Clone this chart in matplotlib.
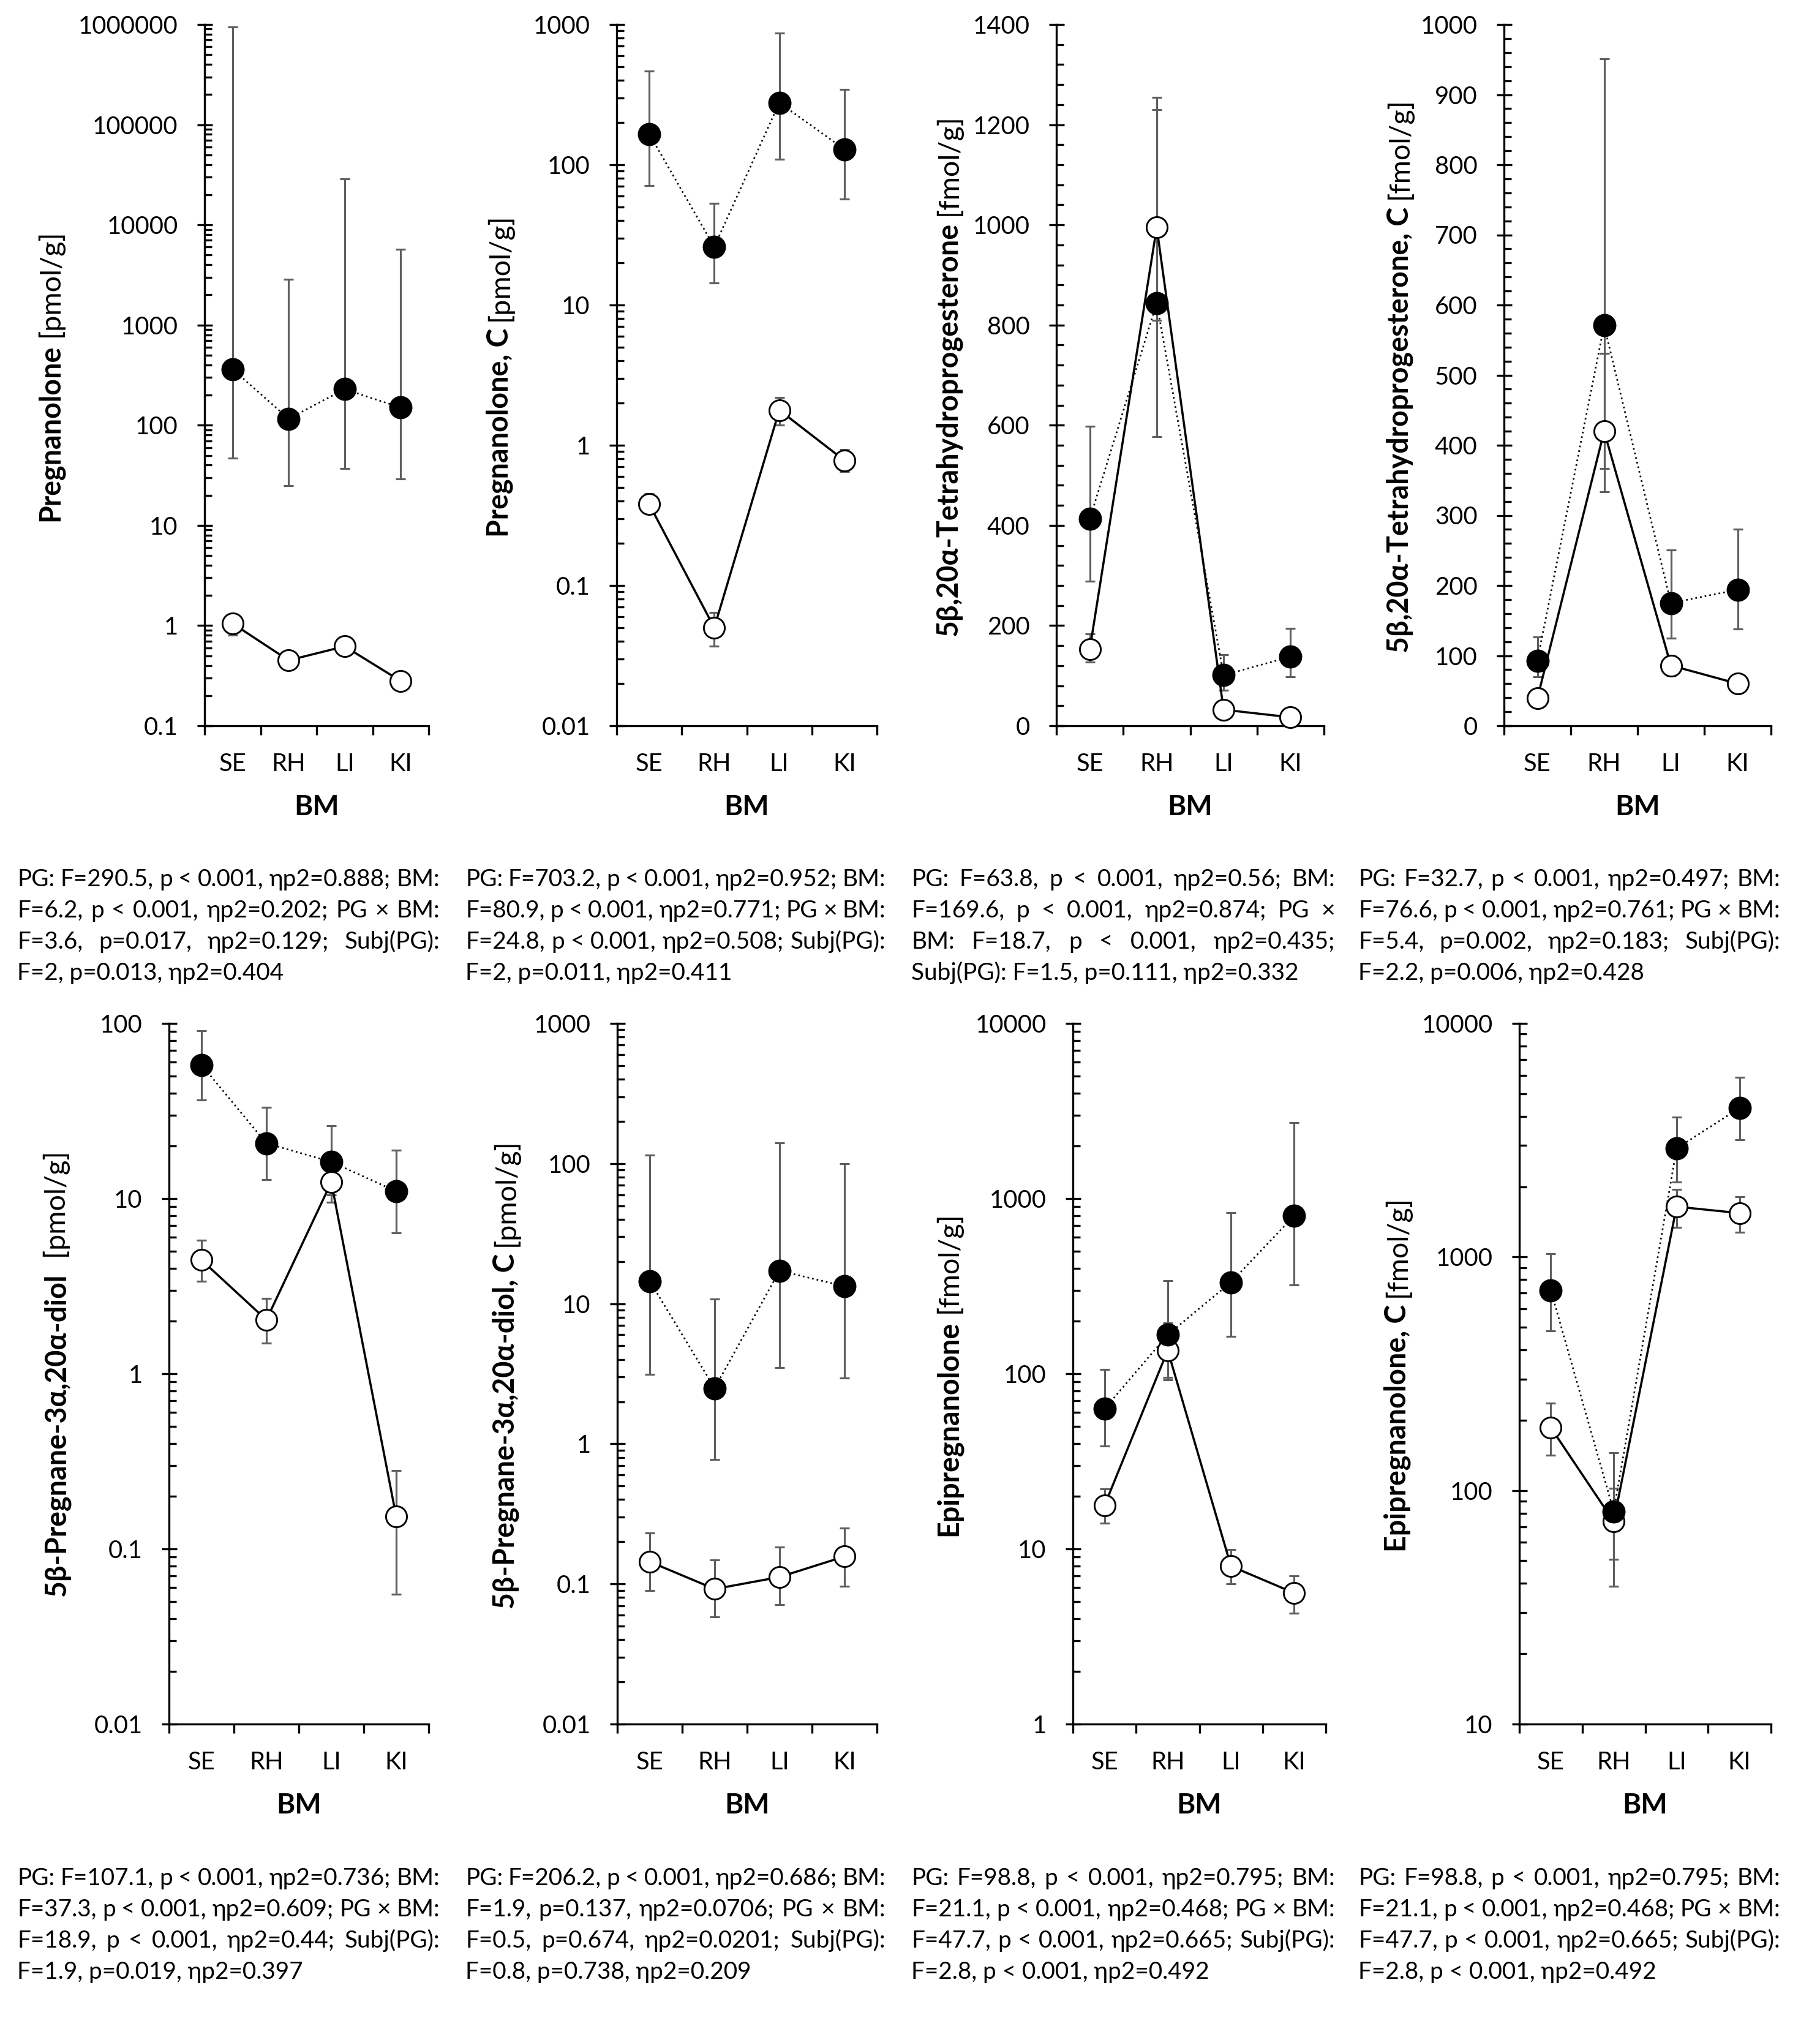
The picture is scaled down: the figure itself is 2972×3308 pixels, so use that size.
import numpy as np
import matplotlib
matplotlib.use("Agg")
import matplotlib.pyplot as plt
from matplotlib.ticker import (LogLocator, MultipleLocator, FixedLocator,
                               FixedFormatter, FuncFormatter, NullFormatter)
from matplotlib.transforms import IdentityTransform

W, H, DPI = 2972, 3308, 300
FAM = ["Lato", "DejaVu Sans"]
plt.rcParams["font.family"] = FAM

categories = ["SE", "RH", "LI", "KI"]

# Pregnanolone
preg_f = [363, 116, 229, 150]
preg_f_lo = [47, 25, 37, 29]
preg_f_hi = [940000, 2860, 29000, 5700]
preg_o = [1.05, 0.45, 0.62, 0.28]
preg_o_lo = [0.8, 0.38, 0.52, 0.24]
preg_o_hi = [1.3, 0.52, 0.74, 0.33]

# Pregnanolone, C
pregc_f = [166, 26, 277, 129]
pregc_f_lo = [71, 14.3, 109, 57]
pregc_f_hi = [466, 53, 866, 345]
pregc_o = [0.38, 0.050, 1.78, 0.78]
pregc_o_lo = [0.33, 0.037, 1.4, 0.65]
pregc_o_hi = [0.45, 0.064, 2.2, 0.93]

# 5b,20a-Tetrahydroprogesterone
thp_f = [413, 844, 101, 138]
thp_f_lo = [288, 577, 71, 98]
thp_f_hi = [598, 1230, 142, 194]
thp_o = [153, 995, 32, 17]
thp_o_lo = [127, 810, 27, 13]
thp_o_hi = [184, 1255, 38, 21]

# 5b,20a-Tetrahydroprogesterone, C
thpc_f = [93, 571, 175, 194]
thpc_f_lo = [70, 334, 125, 138]
thpc_f_hi = [127, 951, 251, 280]
thpc_o = [39, 420, 86, 60]
thpc_o_lo = [33, 367, 72, 52]
thpc_o_hi = [45, 531, 100, 68]

# 5b-Pregnane-3a,20a-diol
diol_f = [58, 20.7, 16.2, 11]
diol_f_lo = [36.6, 12.8, 9.5, 6.35]
diol_f_hi = [90.6, 33.3, 26, 18.9]
diol_o = [4.46, 2.03, 12.4, 0.153]
diol_o_lo = [3.36, 1.5, 10.5, 0.055]
diol_o_hi = [5.8, 2.7, 14, 0.28]

# 5b-Pregnane-3a,20a-diol, C
diolc_f = [14.5, 2.49, 17.2, 13.3]
diolc_f_lo = [3.13, 0.77, 3.5, 2.94]
diolc_f_hi = [115, 10.8, 141, 100]
diolc_o = [0.144, 0.092, 0.112, 0.157]
diolc_o_lo = [0.09, 0.058, 0.071, 0.096]
diolc_o_hi = [0.232, 0.148, 0.183, 0.251]

# Epipregnanolone
epi_f = [63, 167, 333, 798]
epi_f_lo = [38.7, 95, 164, 322]
epi_f_hi = [106, 340, 832, 2716]
epi_o = [17.7, 136, 7.97, 5.6]
epi_o_lo = [14, 92, 6.3, 4.3]
epi_o_hi = [22, 195, 9.9, 7.0]

# Epipregnanolone, C
epic_f = [721, 81.5, 2915, 4345]
epic_f_lo = [484, 38.8, 2097, 3175]
epic_f_hi = [1035, 145, 3960, 5870]
epic_o = [186, 73.7, 1642, 1541]
epic_o_lo = [142, 50.6, 1342, 1273]
epic_o_hi = [237, 102, 1950, 1806]

ylabel_bold = ["Pregnanolone", "Pregnanolone, C",
               "5β,20α-Tetrahydroprogesterone", "5β,20α-Tetrahydroprogesterone, C",
               "5β-Pregnane-3α,20α-diol", "5β-Pregnane-3α,20α-diol, C",
               "Epipregnanolone", "Epipregnanolone, C"]
ylabel_unit = ["[pmol/g]", "[pmol/g]", "[fmol/g]", "[fmol/g]",
               " [pmol/g]", "[pmol/g]", "[fmol/g]", "[fmol/g]"]

captions = [
    ["PG: F=290.5, p < 0.001, ηp2=0.888; BM:",
     "F=6.2, p < 0.001, ηp2=0.202; PG × BM:",
     "F=3.6, p=0.017, ηp2=0.129; Subj(PG):",
     "F=2, p=0.013, ηp2=0.404"],
    ["PG: F=703.2, p < 0.001, ηp2=0.952; BM:",
     "F=80.9, p < 0.001, ηp2=0.771; PG × BM:",
     "F=24.8, p < 0.001, ηp2=0.508; Subj(PG):",
     "F=2, p=0.011, ηp2=0.411"],
    ["PG: F=63.8, p < 0.001, ηp2=0.56; BM:",
     "F=169.6, p < 0.001, ηp2=0.874; PG ×",
     "BM: F=18.7, p < 0.001, ηp2=0.435;",
     "Subj(PG): F=1.5, p=0.111, ηp2=0.332"],
    ["PG: F=32.7, p < 0.001, ηp2=0.497; BM:",
     "F=76.6, p < 0.001, ηp2=0.761; PG × BM:",
     "F=5.4, p=0.002, ηp2=0.183; Subj(PG):",
     "F=2.2, p=0.006, ηp2=0.428"],
    ["PG: F=107.1, p < 0.001, ηp2=0.736; BM:",
     "F=37.3, p < 0.001, ηp2=0.609; PG × BM:",
     "F=18.9, p < 0.001, ηp2=0.44; Subj(PG):",
     "F=1.9, p=0.019, ηp2=0.397"],
    ["PG: F=206.2, p < 0.001, ηp2=0.686; BM:",
     "F=1.9, p=0.137, ηp2=0.0706; PG × BM:",
     "F=0.5, p=0.674, ηp2=0.0201; Subj(PG):",
     "F=0.8, p=0.738, ηp2=0.209"],
    ["PG: F=98.8, p < 0.001, ηp2=0.795; BM:",
     "F=21.1, p < 0.001, ηp2=0.468; PG × BM:",
     "F=47.7, p < 0.001, ηp2=0.665; Subj(PG):",
     "F=2.8, p < 0.001, ηp2=0.492"],
    ["PG: F=98.8, p < 0.001, ηp2=0.795; BM:",
     "F=21.1, p < 0.001, ηp2=0.468; PG × BM:",
     "F=47.7, p < 0.001, ηp2=0.665; Subj(PG):",
     "F=2.8, p < 0.001, ηp2=0.492"],
]

# layout in pixels of the full image
rows = [(40, 1185), (1671, 2815)]
ax_x = [(334, 700), (1007, 1432), (1725, 2162), (2456, 2892),
        (276, 700), (1008, 1432), (1752, 2165), (2481, 2892)]
ylab_x = [84, 818, 1551, 2287, 95, 828, 1551, 2284]
cap_cols = [(28, 718), (760, 1446), (1488, 2180), (2218, 2907)]
cap_base = [1447, 3078]
CAP_GAP = 51

TICK_FS = 9.6
LAB_FS = 11.2
CAP_FS = 9.3
ERR_C = "#5f5f5f"
PX = DPI / 72.0

panels = [
    ("log", (0.1, 1e6), preg_f, preg_f_lo, preg_f_hi, preg_o, preg_o_lo, preg_o_hi),
    ("log", (0.01, 1000), pregc_f, pregc_f_lo, pregc_f_hi, pregc_o, pregc_o_lo, pregc_o_hi),
    ("lin", (0, 1400, 200, 40), thp_f, thp_f_lo, thp_f_hi, thp_o, thp_o_lo, thp_o_hi),
    ("lin", (0, 1000, 100, 20), thpc_f, thpc_f_lo, thpc_f_hi, thpc_o, thpc_o_lo, thpc_o_hi),
    ("log", (0.01, 100), diol_f, diol_f_lo, diol_f_hi, diol_o, diol_o_lo, diol_o_hi),
    ("log", (0.01, 1000), diolc_f, diolc_f_lo, diolc_f_hi, diolc_o, diolc_o_lo, diolc_o_hi),
    ("log", (1, 10000), epi_f, epi_f_lo, epi_f_hi, epi_o, epi_o_lo, epi_o_hi),
    ("log", (10, 10000), epic_f, epic_f_lo, epic_f_hi, epic_o, epic_o_lo, epic_o_hi),
]


def fmt_num(v, pos=None):
    if v >= 1 or v == 0:
        return f"{v:.0f}"
    return f"{v:.6f}".rstrip("0")


fig = plt.figure(figsize=(W / DPI, H / DPI), dpi=DPI)
fig.patch.set_facecolor("white")
r = fig.canvas.get_renderer()


def ylabel2(xc, yc, bold, unit):
    kw = dict(rotation=90, rotation_mode="anchor", ha="left", va="baseline",
              fontsize=LAB_FS, transform=IdentityTransform())
    t1 = fig.text(0, 0, bold, fontweight="bold", **kw)
    t2 = fig.text(0, 0, unit, **kw)
    l1 = t1.get_window_extent(r).height
    l2 = t2.get_window_extent(r).height
    sp = 0.26 * LAB_FS * PX
    y0 = (H - yc) - (l1 + sp + l2) / 2
    xb = xc + 12
    t1.set_position((xb, y0))
    t2.set_position((xb, y0 + l1 + sp))


def caption(lines, x0, x1, yb0):
    # justified paragraph, last line left aligned
    min_gap = 0.2 * CAP_FS * PX
    for i, line in enumerate(lines):
        yb = H - (yb0 + i * CAP_GAP)
        kw = dict(ha="left", va="baseline", fontsize=CAP_FS, transform=IdentityTransform())
        if i == len(lines) - 1:
            fig.text(x0, yb, line, **kw)
            continue
        words = line.split(" ")
        texts = [fig.text(0, yb, w, **kw) for w in words]
        widths = [t.get_window_extent(r).width for t in texts]
        gap = max((x1 - x0 - sum(widths)) / (len(words) - 1), min_gap)
        x = x0
        for t, w in zip(texts, widths):
            t.set_position((x, yb))
            x += w + gap


xs = np.arange(1, 5)
for i, (kind, lim, yf, yf_lo, yf_hi, yo, yo_lo, yo_hi) in enumerate(panels):
    top, bot = rows[i // 4]
    x0, x1 = ax_x[i]
    ax = fig.add_axes([x0 / W, 1 - bot / H, (x1 - x0) / W, (bot - top) / H])
    ax.set_facecolor("none")
    for s in ["top", "right"]:
        ax.spines[s].set_visible(False)
    for s in ["left", "bottom"]:
        ax.spines[s].set_linewidth(0.8)

    if kind == "log":
        ax.set_yscale("log")
        ax.set_ylim(lim[0], lim[1])
        ax.yaxis.set_major_locator(LogLocator(base=10, numticks=20))
        ax.yaxis.set_minor_locator(LogLocator(base=10, subs=np.arange(2, 10), numticks=20))
        ax.yaxis.set_minor_formatter(NullFormatter())
    else:
        ax.set_ylim(lim[0], lim[1])
        ax.yaxis.set_major_locator(MultipleLocator(lim[2]))
        ax.yaxis.set_minor_locator(MultipleLocator(lim[3]))
    ax.yaxis.set_major_formatter(FuncFormatter(fmt_num))

    ax.set_xlim(0.5, 4.5)
    ax.xaxis.set_major_locator(FixedLocator([0.5, 1.5, 2.5, 3.5, 4.5]))
    ax.xaxis.set_major_formatter(NullFormatter())
    ax.xaxis.set_minor_locator(FixedLocator(xs))
    ax.xaxis.set_minor_formatter(FixedFormatter(categories))
    ax.tick_params(axis="x", which="major", direction="out", length=3.6, width=0.8)
    ax.tick_params(axis="x", which="minor", length=0, pad=10.5, labelsize=TICK_FS)
    ax.tick_params(axis="y", which="major", direction="inout", length=6, width=0.8,
                   pad=7.4, labelsize=TICK_FS)
    ax.tick_params(axis="y", which="minor", direction="in", length=2.9, width=0.8)

    yf = np.array(yf); yo = np.array(yo)
    ax.errorbar(xs, yf, yerr=[yf - np.array(yf_lo), np.array(yf_hi) - yf], fmt="none",
                ecolor=ERR_C, elinewidth=0.75, capsize=1.9, capthick=0.75, zorder=2)
    ax.errorbar(xs, yo, yerr=[yo - np.array(yo_lo), np.array(yo_hi) - yo], fmt="none",
                ecolor=ERR_C, elinewidth=0.75, capsize=1.9, capthick=0.75, zorder=2)
    z_open = 4 if i == 4 else 3
    ax.plot(xs, yo, color="black", lw=0.85, ls="-", marker="o", ms=8.2,
            mfc="white", mec="black", mew=0.7, zorder=z_open, clip_on=False)
    ax.plot(xs, yf, color="black", lw=0.65, ls=(0, (1, 1.85)), marker="o", ms=8.8,
            mfc="black", mec="black", mew=0.3, zorder=7 - z_open, clip_on=False)

    ax.annotate("BM", xy=(0.5, 0), xycoords="axes fraction", xytext=(0, -133 / PX),
                textcoords="offset points", ha="center", va="center",
                fontsize=11, fontweight="bold")

    ylabel2(ylab_x[i], (top + bot) / 2, ylabel_bold[i], ylabel_unit[i])
    cx0, cx1 = cap_cols[i % 4]
    caption(captions[i], cx0, cx1, cap_base[i // 4])

fig.savefig("out.png", dpi=DPI, facecolor="white")
